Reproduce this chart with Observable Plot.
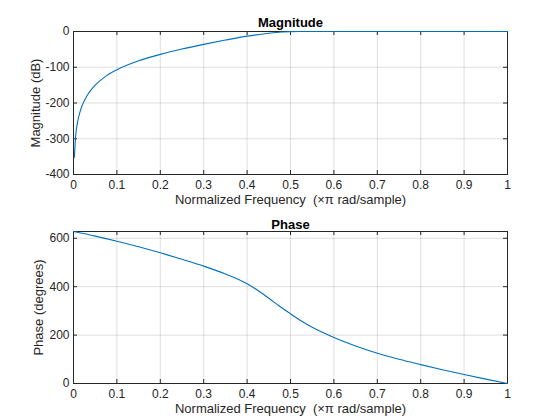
<!DOCTYPE html>
<html><head><meta charset="utf-8">
<script src="https://cdn.jsdelivr.net/npm/d3@7"></script>
<script src="https://cdn.jsdelivr.net/npm/@observablehq/plot@0.6"></script>
<style>
html,body{margin:0;padding:0;background:#fff;}
#chart{width:560px;height:420px;overflow:hidden;}
#chart svg{display:block;}
</style></head><body><div id="chart"></div>
<script>
// Magnitude response (dB) vs normalized frequency
const magFreq = [0.002, 0.005, 0.01, 0.015, 0.02, 0.03, 0.04, 0.05, 0.07, 0.1, 0.15, 0.2, 0.25, 0.3, 0.35, 0.4, 0.45, 0.48, 0.5, 0.55, 0.6, 0.7, 0.8, 0.9, 1.0];
const magDb   = [-352, -292, -250, -225, -207, -182, -164, -150, -129, -107, -82, -64, -49, -36, -24, -13, -5, -1.5, -0.3, 0, 0, 0, 0, 0, 0];
// Phase response (degrees)
const phaseFreq = [0, 0.05, 0.1, 0.15, 0.2, 0.25, 0.3, 0.35, 0.4, 0.425, 0.45, 0.475, 0.5, 0.525, 0.55, 0.6, 0.65, 0.7, 0.75, 0.8, 0.85, 0.9, 0.95, 1];
const phaseDeg  = [628, 609, 588, 565, 540, 513, 485, 452, 412, 384, 352, 319, 288, 258, 232, 190, 155, 125, 100, 78, 57, 37, 18, 0];
// Ticks and domains
const xTicks = [0, 0.1, 0.2, 0.3, 0.4, 0.5, 0.6, 0.7, 0.8, 0.9, 1];
const magTicks = [-400, -300, -200, -100, 0];
const phaseTicks = [0, 200, 400, 600];
const magDomain = [-400, 0];
const phaseDomain = [0, 628];
const xLabel = "Normalized Frequency \u00a0(\u00d7\u03c0 rad/sample)";

const FONT = "'Liberation Sans', Arial, Helvetica, sans-serif";
const AX = "#262626";
const LINE = "#0072BD";

function panel({data, yDomain, yTicks, title, ylabel, height, marginTop, marginBottom, titleDy, ylabelDx}) {
  const W = 560, ML = 73, MR = 53;
  const innerW = W - ML - MR, innerH = height - marginTop - marginBottom;
  return Plot.plot({
    width: W, height, marginTop, marginBottom, marginLeft: ML, marginRight: MR,
    style: {fontFamily: FONT, fontSize: "12px", color: AX, background: "#fff", overflow: "visible"},
    x: {domain: [0, 1], label: null},
    y: {domain: yDomain, label: null},
    marks: [
      Plot.gridX(xTicks, {stroke: AX, strokeOpacity: 0.15}),
      Plot.gridY(yTicks, {stroke: AX, strokeOpacity: 0.15}),
      Plot.tickX(xTicks, {x: d => d, stroke: AX, insetTop: innerH - 4}),
      Plot.tickX(xTicks, {x: d => d, stroke: AX, insetBottom: innerH - 4}),
      Plot.tickY(yTicks, {y: d => d, stroke: AX, insetRight: innerW - 4}),
      Plot.tickY(yTicks, {y: d => d, stroke: AX, insetLeft: innerW - 4}),
      Plot.axisX(xTicks, {tickSize: 0, tickPadding: 6, label: null, tickFormat: d => String(d), fill: AX}),
      Plot.axisY(yTicks, {tickSize: 0, tickPadding: 4, label: null, tickFormat: d => String(d), fill: AX}),
      Plot.frame({stroke: AX}),
      Plot.line(data, {x: "f", y: "v", stroke: LINE, strokeWidth: 1.1, curve: "monotone-x"}),
      Plot.text([title], {text: d => d, frameAnchor: "top", textAnchor: "middle", lineAnchor: "bottom", dy: titleDy, fontWeight: "bold", fontSize: 13, fill: "#000"}),
      Plot.text([xLabel], {text: d => d, frameAnchor: "bottom", textAnchor: "middle", lineAnchor: "bottom", dy: 29, fontSize: 13, fill: AX}),
      Plot.text([ylabel], {text: d => d, frameAnchor: "left", rotate: -90, textAnchor: "middle", lineAnchor: "bottom", dx: ylabelDx, fontSize: 13, fill: AX})
    ]
  });
}

const magData = magFreq.map((f, i) => ({f, v: magDb[i]}));
const phaseData = phaseFreq.map((f, i) => ({f, v: phaseDeg[i]}));

const chart = document.getElementById("chart");
chart.append(panel({
  data: magData, yDomain: magDomain, yTicks: magTicks, title: "Magnitude", ylabel: "Magnitude (dB)",
  height: 210, marginTop: 31, marginBottom: 36, titleDy: -4.5, ylabelDx: -33.5
}));
chart.append(panel({
  data: phaseData, yDomain: phaseDomain, yTicks: phaseTicks, title: "Phase", ylabel: "Phase (degrees)",
  height: 210, marginTop: 21, marginBottom: 37, titleDy: -2.5, ylabelDx: -30.7
}));
</script></body></html>
